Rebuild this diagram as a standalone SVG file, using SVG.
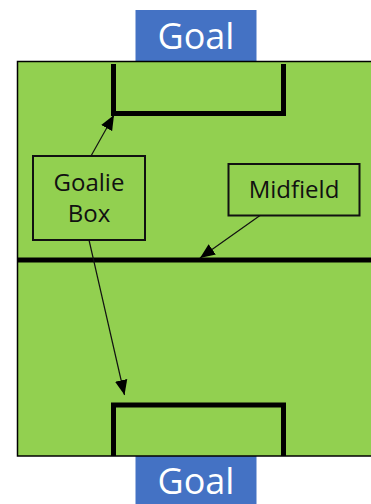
<svg xmlns="http://www.w3.org/2000/svg" width="371" height="504" viewBox="0 0 371 504">
<defs>
<style>
.goal{fill:#4472C4;}
.goaltxt{font-family:"Open Sans","Noto Sans",sans-serif;font-size:36px;fill:#ffffff;text-anchor:middle;}
.lbl{font-family:"Open Sans","Noto Sans",sans-serif;font-size:24px;fill:#111;text-anchor:middle;}
.box{fill:#92D050;stroke:#111;stroke-width:2;}
.thick{fill:none;stroke:#000;stroke-width:5;stroke-linejoin:miter;}
.conn{stroke:#111;stroke-width:1.2;fill:none;marker-end:url(#ah);}
</style>
<marker id="ah" viewBox="0 0 12 10" refX="12" refY="5" markerWidth="15" markerHeight="13" markerUnits="userSpaceOnUse" orient="auto">
<path d="M0,0 L12,5 L0,10 Z" fill="#000"/>
</marker>
</defs>
<rect width="371" height="504" fill="#ffffff"/>
<g id="goal-top">
<rect class="goal" x="135.5" y="10" width="121" height="51"/>
<text class="goaltxt" x="196" y="48.5">Goal</text>
</g>
<g id="goal-bottom">
<rect class="goal" x="135.5" y="456" width="121" height="48"/>
<text class="goaltxt" x="196" y="494">Goal</text>
</g>
<g id="field">
<rect x="17.5" y="61.5" width="360" height="394.5" fill="#92D050" stroke="#000" stroke-width="1.5"/>
<path class="thick" d="M113.5,64 V113.5 H283.5 V64"/>
<path class="thick" d="M113.5,456 V405 H283.5 V456"/>
<line x1="17" y1="260" x2="371" y2="260" stroke="#000" stroke-width="5"/>
</g>
<g id="goalie-box">
<rect class="box" x="33" y="156" width="112" height="84"/>
<text class="lbl" x="89" y="190.5">Goalie</text>
<text class="lbl" x="89" y="222">Box</text>
</g>
<g id="midfield">
<rect class="box" x="228.5" y="164" width="131" height="51.5"/>
<text class="lbl" x="294" y="197.5">Midfield</text>
</g>
<g id="connectors">
<line class="conn" x1="91" y1="156" x2="114" y2="115"/>
<line class="conn" x1="89" y1="240" x2="124.5" y2="395"/>
<line class="conn" x1="260" y1="215.5" x2="200" y2="258"/>
</g>
</svg>
